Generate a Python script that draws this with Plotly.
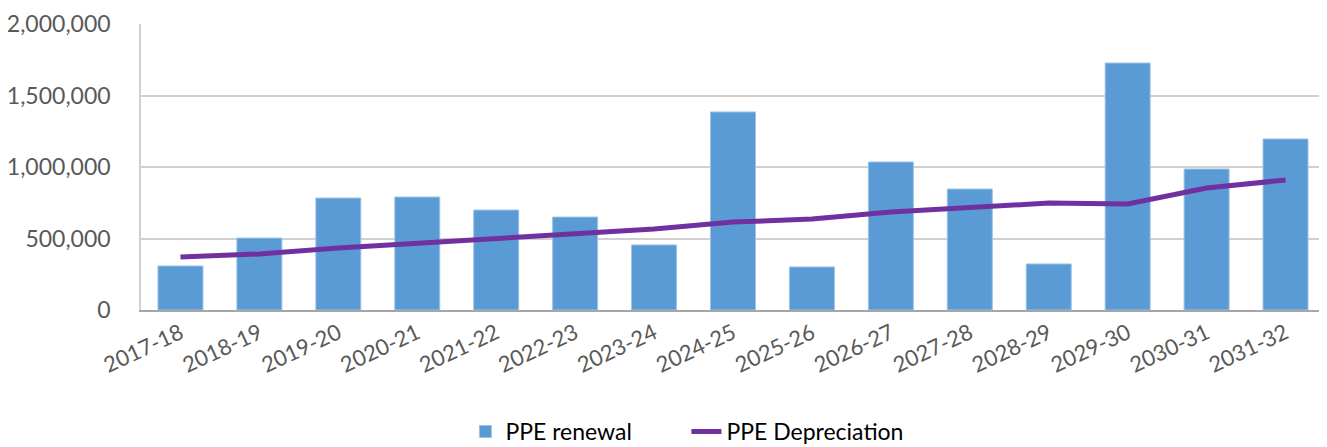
import plotly.graph_objects as go

YEARS = ["2017-18", "2018-19", "2019-20", "2020-21", "2021-22", "2022-23", "2023-24", "2024-25",
         "2025-26", "2026-27", "2027-28", "2028-29", "2029-30", "2030-31", "2031-32"]
PPE_RENEWAL = [308000, 503000, 783000, 790000, 699000, 650000, 455000, 1385000,
               301000, 1035000, 846000, 322000, 1727000, 986000, 1196000]
PPE_DEPRECIATION = [371000, 392000, 434000, 469000, 503000, 538000, 566000, 615000,
                    636000, 685000, 720000, 748000, 741000, 853000, 909000]

FONT = "Lato, 'Open Sans', sans-serif"

fig = go.Figure()
fig.add_trace(go.Bar(x=YEARS, y=PPE_RENEWAL, name="PPE renewal",
                     marker=dict(color="#5B9BD5", line=dict(color="#9DC3E6", width=1))))
fig.add_trace(go.Scatter(x=YEARS, y=PPE_DEPRECIATION, name="PPE Depreciation", mode="lines",
                         line=dict(color="#7030A0", width=5)))

# page body has an 8px margin, so the margins below are offset by that
fig.update_layout(
    width=1327, height=447,
    margin=dict(l=133, r=10, t=16, b=145, autoexpand=False),
    paper_bgcolor="white", plot_bgcolor="white",
    bargap=0.43,
    font=dict(family=FONT, color="#595959"),
    showlegend=True,
    legend=dict(orientation="h", x=0.274, xanchor="left", y=-0.425, yanchor="middle",
                entrywidth=176, font=dict(size=23, color="#000000"), traceorder="normal"),
    xaxis=dict(tickangle=-25, tickfont=dict(size=22), showline=True, linecolor="#A6A6A6",
               linewidth=2, showgrid=False, ticks="", automargin=False),
    yaxis=dict(range=[0, 2000000], dtick=500000, tickformat=",d", tickfont=dict(size=23),
               showgrid=True, gridcolor="#D0D0D0", gridwidth=1.5, zeroline=False,
               showline=True, linecolor="#D0D0D0", linewidth=1.5, ticklabelstandoff=24,
               automargin=False),
)

fig.write_html("out.html")
